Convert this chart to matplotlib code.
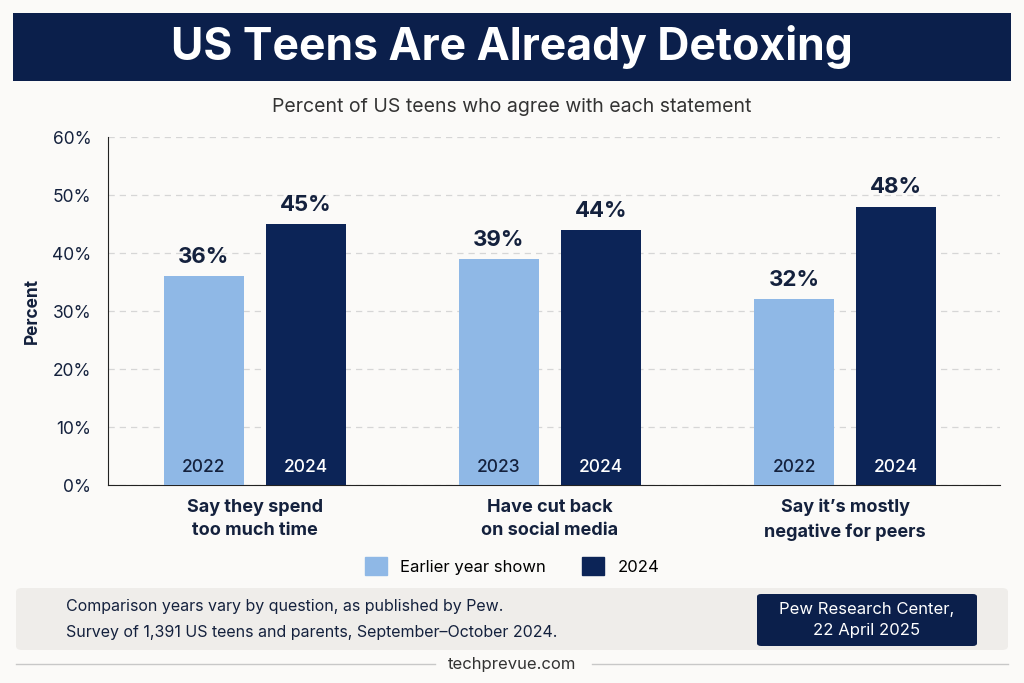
import matplotlib
matplotlib.use('Agg')
import matplotlib.pyplot as plt
from matplotlib.patches import Rectangle, FancyBboxPatch

# ── Data ────────────────────────────────────────────────────────────────
categories = ['Say they spend\ntoo much time', 'Have cut back\non social media', 'Say it\u2019s mostly\nnegative for peers']
earlier_vals = [36, 39, 32]
earlier_years = ['2022', '2023', '2022']
latest_vals = [45, 44, 48]
latest_year = '2024'
yticks = [0, 10, 20, 30, 40, 50, 60]

NAVY = '#0b1f4b'
LIGHT = '#8fb8e6'
DARK = '#0c2457'
BG = '#fbfaf8'
FONT = ['Inter', 'DejaVu Sans']
plt.rcParams['font.family'] = FONT

fig = plt.figure(figsize=(10.24, 6.83), dpi=100, facecolor=BG)
W, H = 1024, 683

def fx(px): return px / W
def fy(py): return 1 - py / H

# title banner
fig.patches.append(Rectangle((fx(13), fy(81)), fx(998), 68 / H, transform=fig.transFigure,
                             facecolor=NAVY, edgecolor='none'))
fig.text(0.5, fy(47), 'US Teens Are Already Detoxing', color='white', fontsize=32,
         fontweight='bold', ha='center', va='center')
fig.text(0.5, fy(107), 'Percent of US teens who agree with each statement', color='#333333',
         fontsize=14, ha='center', va='center')

# ── Axes ────────────────────────────────────────────────────────────────
ax = fig.add_axes([fx(108), fy(485), fx(1000 - 108), (485 - 137) / H])
ax.set_facecolor(BG)
x = list(range(len(categories)))
off, bw = 0.173, 0.272
xl = [i - off for i in x]
xr = [i + off for i in x]
ax.bar(xl, earlier_vals, bw, color=LIGHT, zorder=3)
ax.bar(xr, latest_vals, bw, color=DARK, zorder=3)
for i in x:
    ax.text(xl[i], earlier_vals[i] + 1.6, f'{earlier_vals[i]}%', ha='center', va='bottom',
            fontsize=16, fontweight='bold', color='#14213d')
    ax.text(xr[i], latest_vals[i] + 1.6, f'{latest_vals[i]}%', ha='center', va='bottom',
            fontsize=16, fontweight='bold', color='#14213d')
    ax.text(xl[i], 1.5, earlier_years[i], ha='center', va='bottom', fontsize=12.5,
            color='#14213d', fontweight='medium', zorder=4)
    ax.text(xr[i], 1.5, latest_year, ha='center', va='bottom', fontsize=12.5,
            color='white', fontweight='medium', zorder=4)

ax.set_xlim(-0.498, 2.525)
ax.set_ylim(0, 60)
ax.set_yticks(yticks)
ax.set_yticklabels([f'{t}%' for t in yticks], fontsize=12.5, color='#14213d')
ax.set_xticks(x)
ax.set_xticklabels(categories, fontsize=13, fontweight='bold', color='#14213d', linespacing=1.5)
ax.tick_params(axis='x', length=0, pad=10)
ax.tick_params(axis='y', length=0, pad=12)
ax.grid(axis='y', color='#d6d6d6', linestyle=(0, (5, 4)), linewidth=0.9, zorder=0)
for s in ['top', 'right']:
    ax.spines[s].set_visible(False)
ax.spines['left'].set_color('#222222')
ax.spines['bottom'].set_color('#222222')
ax.set_ylabel('Percent', fontsize=12.5, fontweight='bold', color='#14213d', labelpad=8)

# legend
leg = fig.legend(handles=[Rectangle((0, 0), 1, 1, color=LIGHT), Rectangle((0, 0), 1, 1, color=DARK)],
                 labels=['Earlier year shown', '2024'], loc='center', bbox_to_anchor=(0.5, fy(566)),
                 ncol=2, frameon=False, fontsize=12, handlelength=1.3, handleheight=1.3,
                 columnspacing=2.2, handletextpad=0.8)

# footer box
fig.patches.append(FancyBboxPatch((fx(16), fy(650)), fx(992), 62 / H, transform=fig.transFigure,
                                  boxstyle='round,pad=0,rounding_size=0.006',
                                  facecolor='#efedea', edgecolor='none'))
fig.text(fx(66), fy(607), 'Comparison years vary by question, as published by Pew.', fontsize=11.5,
         color='#14213d', va='center')
fig.text(fx(66), fy(632), 'Survey of 1,391 US teens and parents, September\u2013October 2024.',
         fontsize=11.5, color='#14213d', va='center')
fig.patches.append(FancyBboxPatch((fx(757), fy(646)), fx(220), 52 / H, transform=fig.transFigure,
                                  boxstyle='round,pad=0,rounding_size=0.004',
                                  facecolor=NAVY, edgecolor='none'))
fig.text(fx(867), fy(620), 'Pew Research Center,\n22 April 2025', fontsize=12, color='white',
         ha='center', va='center', linespacing=1.5)

# bottom rule and site
fig.add_artist(plt.Line2D([fx(16), fx(435)], [fy(664), fy(664)], color='#c8c8c8', lw=1))
fig.add_artist(plt.Line2D([fx(592), fx(1008)], [fy(664), fy(664)], color='#c8c8c8', lw=1))
fig.text(0.5, fy(664), 'techprevue.com', fontsize=12, color='#333333', ha='center', va='center')

fig.savefig('out.png', dpi=100, facecolor=BG)
